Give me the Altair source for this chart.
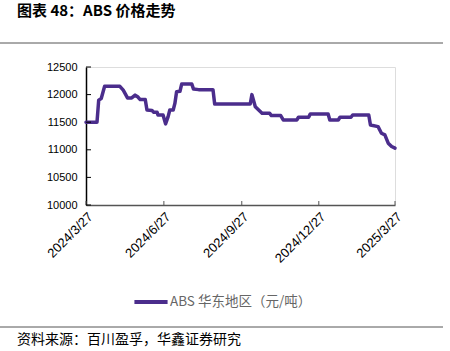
import altair as alt
import pandas as pd

dates = [
    "2024-03-27", "2024-04-09", "2024-04-11", "2024-04-14", "2024-04-18",
    "2024-05-06", "2024-05-10", "2024-05-15", "2024-05-20", "2024-05-24",
    "2024-05-27", "2024-05-30", "2024-06-05", "2024-06-07", "2024-06-13",
    "2024-06-15", "2024-06-19", "2024-06-20", "2024-06-26", "2024-06-29",
    "2024-07-02", "2024-07-04", "2024-07-08", "2024-07-10", "2024-07-12",
    "2024-07-16", "2024-07-18", "2024-07-30", "2024-08-01", "2024-08-07",
    "2024-08-24", "2024-08-26", "2024-10-07", "2024-10-09", "2024-10-13",
    "2024-10-17", "2024-10-21", "2024-10-30", "2024-11-01", "2024-11-12",
    "2024-11-15", "2024-12-01", "2024-12-03", "2024-12-15", "2024-12-17",
    "2025-01-07", "2025-01-09", "2025-01-19", "2025-01-21", "2025-02-03",
    "2025-02-05", "2025-02-24", "2025-02-26", "2025-03-07", "2025-03-11",
    "2025-03-15", "2025-03-19", "2025-03-23", "2025-03-27",
]
prices = [
    11500, 11500, 11900, 11930, 12150,
    12150, 12080, 11940, 11940, 11990,
    11960, 11910, 11910, 11720, 11710,
    11680, 11680, 11630, 11630, 11470,
    11600, 11720, 11720, 11840, 12050,
    12060, 12190, 12190, 12100, 12090,
    12090, 11830, 11830, 12000, 11780,
    11720, 11660, 11660, 11620, 11620,
    11540, 11540, 11590, 11590, 11650,
    11650, 11540, 11540, 11590, 11590,
    11630, 11630, 11450, 11420, 11300,
    11270, 11120, 11060, 11030,
]
x_ticks = ["2024-03-27", "2024-06-27", "2024-09-27", "2024-12-27", "2025-03-27"]
y_ticks = [10000, 10500, 11000, 11500, 12000, 12500]
series_name = "ABS 华东地区（元/吨）"
title_text = "图表 48：ABS 价格走势"
source_text = "资料来源：百川盈孚，华鑫证券研究"

W, H = 309, 138
PL, PT = 86, 67
PR, PB = 450 - PL - W, 351 - PT - H

df = pd.DataFrame({"date": pd.to_datetime(dates), "price": prices, "series": series_name})
xt = pd.DataFrame({"date": pd.to_datetime(x_ticks)})
yt = pd.DataFrame({"price": y_ticks})

xscale = alt.Scale(domain=[pd.Timestamp("2024-03-27").isoformat(), pd.Timestamp("2025-03-27").isoformat()], nice=False)
yscale = alt.Scale(domain=[10000, 12500], nice=False, zero=False)
label_font = "Liberation Sans"

xaxis = alt.Axis(values=[pd.Timestamp(d).isoformat() for d in x_ticks],
                 format="%Y/%-m/%-d", labelAngle=-45, labelAlign="right",
                 labelBaseline="top", labelFont=label_font, labelFontSize=13,
                 labelColor="#000000", domainColor="#555555", domainWidth=1.5,
                 ticks=False, labelPadding=5, labelOverlap=False, labelFlush=False,
                 grid=False, title=None)
yaxis = alt.Axis(values=y_ticks, format="d", labelFont=label_font, labelFontSize=11,
                 labelColor="#000000", domainColor="#000000", domainWidth=1.5,
                 ticks=False, labelPadding=9, labelOverlap=False, labelFlush=False,
                 grid=False, title=None)

line = alt.Chart(df).mark_line(strokeWidth=3.5, strokeCap="round", strokeJoin="round", clip=False).encode(
    x=alt.X("date:T", scale=xscale, axis=xaxis, title=None),
    y=alt.Y("price:Q", scale=yscale, axis=yaxis, title=None),
    color=alt.Color("series:N", scale=alt.Scale(range=["#4b2d8c"]),
                    legend=alt.Legend(title=None, orient="none", legendX=46, legendY=216,
                                      symbolType="stroke", symbolSize=1100, symbolStrokeWidth=4,
                                      labelFont="Noto Sans CJK SC", labelFontSize=13.5,
                                      labelColor="#666666", labelOffset=0, labelLimit=300)),
)

xtick_marks = alt.Chart(xt).mark_rule(color="#555555", strokeWidth=1).encode(
    x=alt.X("date:T", scale=xscale, axis=xaxis, title=None), y=alt.value(H), y2=alt.value(H - 4))
ytick_marks = alt.Chart(yt).mark_rule(color="#000000", strokeWidth=1).encode(
    y=alt.Y("price:Q", scale=yscale, axis=yaxis, title=None), x=alt.value(0), x2=alt.value(5))

title = alt.Chart(pd.DataFrame({"t": [title_text]})).mark_text(
    align="left", baseline="middle", font="Noto Sans CJK SC", fontSize=15, fontWeight="bold", color="#000000"
).encode(text="t:N", x=alt.value(17 - PL), y=alt.value(11 - PT))

source = alt.Chart(pd.DataFrame({"t": [source_text]})).mark_text(
    align="left", baseline="middle", font="Noto Sans CJK SC", fontSize=14, color="#000000"
).encode(text="t:N", x=alt.value(17 - PL), y=alt.value(340 - PT))

rule_top = alt.Chart(pd.DataFrame({"a": [0]})).mark_rule(color="#555555", strokeWidth=1).encode(
    x=alt.value(0 - PL), x2=alt.value(443 - PL), y=alt.value(43 - PT))
rule_bot = alt.Chart(pd.DataFrame({"a": [0]})).mark_rule(color="#555555", strokeWidth=1).encode(
    x=alt.value(0 - PL), x2=alt.value(443 - PL), y=alt.value(327 - PT))

chart = alt.layer(line, xtick_marks, ytick_marks, title, source, rule_top, rule_bot).properties(
    width=W, height=H,
    autosize=alt.AutoSizeParams(type="none"),
    padding={"left": PL, "top": PT, "right": PR, "bottom": PB},
).configure_view(stroke=None).configure(background="white")

chart.save("out.html", embed_options={"renderer": "svg", "actions": False})
